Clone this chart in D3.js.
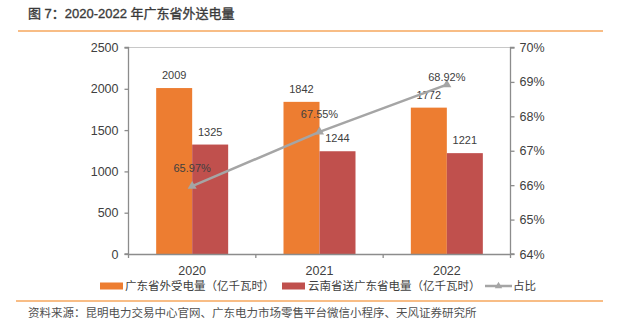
<!DOCTYPE html>
<html><head><meta charset="utf-8">
<script src="https://cdn.jsdelivr.net/npm/d3@7/dist/d3.min.js"></script>
<style>
html,body{margin:0;padding:0;background:#fff;}
svg{display:block;}
</style></head>
<body>
<script>
const categories = ["2020", "2021", "2022"];
const gdReceived = [2009, 1842, 1772];
const ynToGd = [1325, 1244, 1221];
const ratio = [65.97, 67.55, 68.92];
const leftTicks = [0, 500, 1000, 1500, 2000, 2500];
const rightTicks = [64, 65, 66, 67, 68, 69, 70];
const seriesNames = ["广东省外受电量（亿千瓦时）", "云南省送广东省电量（亿千瓦时）", "占比"];
const titleText = "图 7：2020-2022 年广东省外送电量";
const sourceText = "资料来源：昆明电力交易中心官网、广东电力市场零售平台微信小程序、天风证券研究所";

const W = 619, H = 332;
const L = 128.5, R = 510.5, T = 47.5, B = 254;
const C_OR = "#ED7D31", C_RD = "#C0504D", C_GR = "#A5A5A5";
const FONT = "'Liberation Sans', Arial, 'Noto Sans CJK SC', sans-serif";
const CJK = "'Noto Sans CJK SC', sans-serif";
const TXT = "#404040";

const svg = d3.select("body").append("svg").attr("width", W).attr("height", H);

// title
svg.append("text").attr("x", 28).attr("y", 17.5).attr("font-family", FONT)
  .attr("font-size", 13).attr("font-weight", 400).attr("fill", "#3a3a3a")
  .attr("stroke", "#3a3a3a").attr("stroke-width", 0.35).text(titleText);
svg.append("line").attr("x1", 18).attr("x2", 603).attr("y1", 31).attr("y2", 31)
  .attr("stroke", "#F6A75E").attr("stroke-width", 1.5);
svg.append("line").attr("x1", 16).attr("x2", 603).attr("y1", 301).attr("y2", 301)
  .attr("stroke", "#F6A75E").attr("stroke-width", 1.5);
svg.append("text").attr("x", 28).attr("y", 317).attr("font-family", CJK)
  .attr("font-size", 11.5).attr("fill", "#505050").text(sourceText);

const x = d3.scaleBand().domain(categories).range([L, R]).paddingInner(0).paddingOuter(0);
const y = d3.scaleLinear().domain([0, 2500]).range([B, T]);
const y2 = d3.scaleLinear().domain([64, 70]).range([B, T]);
const barW = 36;

// top border
svg.append("line").attr("x1", L).attr("x2", R).attr("y1", T).attr("y2", T)
  .attr("stroke", "#c8c8c8").attr("stroke-width", 1);

// bars
const g = svg.append("g");
categories.forEach((c, i) => {
  const cx = x(c) + x.bandwidth() / 2;
  g.append("rect").attr("x", cx - barW).attr("width", barW)
    .attr("y", y(gdReceived[i])).attr("height", B - y(gdReceived[i])).attr("fill", C_OR);
  g.append("rect").attr("x", cx).attr("width", barW)
    .attr("y", y(ynToGd[i])).attr("height", B - y(ynToGd[i])).attr("fill", C_RD);
  g.append("text").attr("x", cx - barW / 2).attr("y", y(gdReceived[i]) - 9)
    .attr("text-anchor", "middle").attr("font-family", FONT).attr("font-size", 11)
    .attr("fill", TXT).text(gdReceived[i]);
  g.append("text").attr("x", cx + barW / 2).attr("y", y(ynToGd[i]) - 9)
    .attr("text-anchor", "middle").attr("font-family", FONT).attr("font-size", 11)
    .attr("fill", TXT).text(ynToGd[i]);
});

// axes
const axisColor = "#8c8c8c";
const left = svg.append("g").attr("transform", `translate(${L},0)`)
  .call(d3.axisLeft(y).tickValues(leftTicks).tickSize(4).tickPadding(6).tickFormat(d3.format("d")));
const right = svg.append("g").attr("transform", `translate(${R},0)`)
  .call(d3.axisRight(y2).tickValues(rightTicks).tickSize(4).tickPadding(5).tickFormat(d => d + "%"));
const bottom = svg.append("g").attr("transform", `translate(0,${B})`)
  .call(d3.axisBottom(x).tickSize(0).tickPadding(12));
[left, right, bottom].forEach(a => {
  a.select(".domain").attr("stroke", axisColor).attr("stroke-width", 1.3);
  a.selectAll(".tick line").attr("stroke", axisColor).attr("stroke-width", 1.3);
  a.selectAll("text").attr("font-family", FONT).attr("font-size", 12.5).attr("fill", TXT);
});
left.select(".domain").attr("d", `M-4,${T}H0V${B}H-4`);
right.select(".domain").attr("d", `M4,${T}H0V${B}H4`);
// bottom boundary ticks
const bTicks = [L, L + x.bandwidth(), L + 2 * x.bandwidth(), R];
bottom.selectAll(".btick").data(bTicks).enter().append("line")
  .attr("x1", d => d).attr("x2", d => d).attr("y1", 0).attr("y2", 4)
  .attr("stroke", axisColor).attr("stroke-width", 1.3);

// line
const pts = categories.map((c, i) => [x(c) + x.bandwidth() / 2, y2(ratio[i])]);
svg.append("path").attr("d", d3.line()(pts)).attr("fill", "none")
  .attr("stroke", C_GR).attr("stroke-width", 2.5);
const tri = d3.symbol().type(d3.symbolTriangle).size(36);
pts.forEach(p => {
  svg.append("path").attr("d", tri()).attr("transform", `translate(${p[0]},${p[1]})`).attr("fill", C_GR);
});
pts.forEach((p, i) => {
  svg.append("text").attr("x", p[0]).attr("y", Math.max(p[1] - 14, T + 33))
    .attr("text-anchor", "middle").attr("font-family", FONT).attr("font-size", 11)
    .attr("fill", TXT).text(ratio[i].toFixed(2) + "%");
});

// legend
const ly = 286;
svg.append("rect").attr("x", 100).attr("y", ly - 3.5).attr("width", 23).attr("height", 7).attr("fill", C_OR);
svg.append("text").attr("x", 125).attr("y", ly + 4).attr("font-family", CJK).attr("font-size", 11.5)
  .attr("fill", TXT).text(seriesNames[0]);
svg.append("rect").attr("x", 282).attr("y", ly - 3.5).attr("width", 23).attr("height", 7).attr("fill", C_RD);
svg.append("text").attr("x", 308).attr("y", ly + 4).attr("font-family", CJK).attr("font-size", 11.5)
  .attr("fill", TXT).text(seriesNames[1]);
svg.append("line").attr("x1", 485).attr("x2", 512).attr("y1", ly).attr("y2", ly)
  .attr("stroke", C_GR).attr("stroke-width", 2.5);
svg.append("path").attr("d", d3.symbol().type(d3.symbolTriangle).size(24)())
  .attr("transform", `translate(498.5,${ly})`).attr("fill", C_GR);
svg.append("text").attr("x", 513).attr("y", ly + 4).attr("font-family", CJK).attr("font-size", 11.5)
  .attr("fill", TXT).text(seriesNames[2]);
</script>
</body></html>
